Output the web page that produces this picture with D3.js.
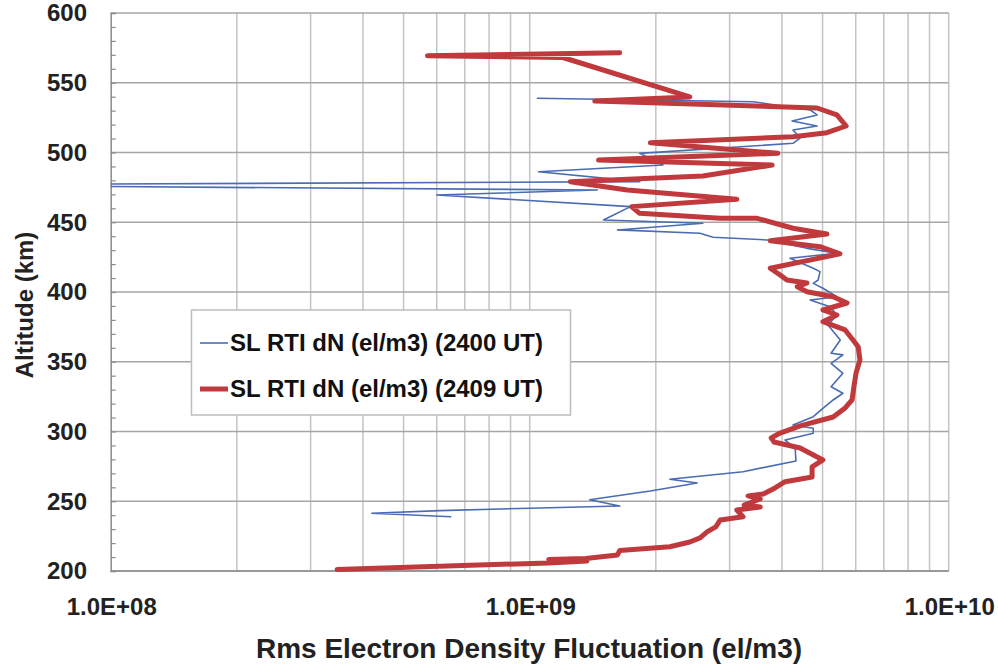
<!DOCTYPE html>
<html>
<head>
<meta charset="utf-8">
<script src="https://cdn.jsdelivr.net/npm/d3@7/dist/d3.min.js"></script>
<style>
  html, body { margin: 0; padding: 0; background: #fff; }
  svg { display: block; font-family: "Liberation Sans", Arial, sans-serif; }
</style>
</head>
<body>
<svg id="chart" width="998" height="669"></svg>
<script>
// altitude (km) and rms dN (units of 1e9 el/m3)
var alt2400 = [538.9,536.4,530.5,526.9,522.6,519.0,516.1,510.4,506.6,499.4,491.0,486.2,479.1,476.7,473.1,469.5,461.2,451.6,449.3,444.5,442.1,439.2,437.3,431.3,427.8,424.2,417.0,414.6,408.6,406.2,402.7,396.6,394.3,389.5,383.5,376.4,365.6,356.1,354.9,348.9,341.7,332.1,327.4,322.6,316.6,310.6,304.7,302.3,298.8,293.9,288.2,278.9,271.2,265.8,263.1,257.4,251.1,246.6,245.0,243.3,241.4,238.9];
var dn2400 = [1.04,3.41,4.67,4.85,4.23,4.85,4.25,4.42,4.25,1.83,2.08,1.05,1.83,0.031,1.45,0.60,1.74,1.50,2.59,1.62,2.55,2.74,3.69,4.59,5.41,4.18,4.75,4.93,4.88,4.75,5.01,5.41,4.67,5.21,5.41,5.15,5.51,5.24,5.59,5.24,5.59,5.24,5.59,5.30,5.01,4.75,4.25,4.75,4.75,4.07,4.30,4.32,3.23,2.16,2.51,1.94,1.39,1.64,1.00,0.61,0.42,0.65];

var alt2409 = [571.5,569.4,568.1,539.8,536.9,531.9,526.9,519.0,514.2,511.3,507.0,499.4,494.6,491.0,483.2,479.1,473.1,466.5,461.2,456.4,452.8,452.8,445.7,441.6,436.8,432.5,427.3,417.0,412.2,408.6,406.5,403.8,400.2,396.6,392.1,387.1,383.5,378.7,372.8,365.6,360.8,351.3,341.9,332.1,322.6,316.9,310.4,304.0,298.9,295.4,292.5,288.2,279.6,274.6,267.4,264.0,259.5,255.2,253.8,251.6,247.3,245.9,243.7,238.9,236.6,231.6,228.0,223.7,220.8,217.4,214.7,211.5,209.0,208.3,207.2,205.8,201.1];
var dn2409 = [1.64,0.57,1.20,2.41,1.43,4.85,5.41,5.69,5.12,4.25,1.94,3.91,1.46,3.79,2.59,1.25,1.71,3.12,1.75,1.83,2.85,3.49,4.25,5.12,3.75,4.93,5.50,3.75,3.96,4.11,4.59,4.35,4.59,5.30,5.72,5.01,5.41,5.01,5.66,5.91,6.08,6.14,6.01,5.94,5.88,5.66,5.30,4.42,3.96,3.77,3.83,4.42,5.01,4.72,4.72,4.07,3.85,3.61,3.32,3.55,3.25,3.55,3.12,3.23,2.85,2.78,2.65,2.55,2.41,2.16,1.64,1.62,1.36,1.11,1.37,1.11,0.347];

var altTicks = [200,250,300,350,400,450,500,550,600];
var xTicks = [1e8,1e9,1e10];
var xTickLabels = ["1.0E+08","1.0E+09","1.0E+10"];
var seriesNames = ["SL RTI dN (el/m3) (2400 UT)","SL RTI dN (el/m3) (2409 UT)"];
var seriesColors = ["#4a6cb3","#c0393c"];

var svg = d3.select("#chart");
var pLeft = 110.7, pRight = 948.7, pTop = 13, pBottom = 571;

var x = d3.scaleLog().domain([1e8,1e10]).range([pLeft,pRight]);
var y = d3.scaleLinear().domain([200,600]).range([pBottom,pTop]);

svg.append("defs").append("clipPath").attr("id","plotclip")
  .append("rect").attr("x",pLeft).attr("y",pTop-5).attr("width",pRight-pLeft).attr("height",pBottom-pTop+10);

// vertical grid (log minor)
var vgrid = [];
[1e8,1e9].forEach(function(d){ for (var k=2;k<=9;k++) vgrid.push(d*k); });
vgrid.push(1e9); vgrid.push(1e10);
svg.append("g").selectAll("line").data(vgrid).join("line")
  .attr("x1",function(d){return x(d);}).attr("x2",function(d){return x(d);})
  .attr("y1",pTop).attr("y2",pBottom)
  .attr("stroke","#c4c4c4").attr("stroke-width",1.5);

// horizontal grid
svg.append("g").selectAll("line").data(altTicks).join("line")
  .attr("x1",pLeft).attr("x2",pRight)
  .attr("y1",function(d){return y(d);}).attr("y2",function(d){return y(d);})
  .attr("stroke","#a6a6a6").attr("stroke-width",1.5);

// left axis with inner minor ticks
var yAxis = d3.axisLeft(y).tickValues(d3.range(200,601,10)).tickSize(-5).tickFormat("");
svg.append("g").attr("transform","translate("+pLeft+",0)").call(yAxis)
  .call(function(g){
    g.select(".domain").attr("stroke","#8c8c8c").attr("stroke-width",1.5);
    g.selectAll(".tick line").attr("stroke","#8c8c8c").attr("stroke-width",1.2);
  });
svg.append("line").attr("x1",pLeft).attr("x2",pRight).attr("y1",pBottom).attr("y2",pBottom)
  .attr("stroke","#8c8c8c").attr("stroke-width",1.5);

// y tick labels
svg.append("g").selectAll("text").data(altTicks).join("text")
  .attr("x",87).attr("y",function(d){return y(d);})
  .attr("dy","0.35em").attr("text-anchor","end")
  .attr("font-size",24).attr("font-weight","bold").attr("fill","#222")
  .text(function(d){return d;});

// x tick labels
svg.append("g").selectAll("text").data(xTicks).join("text")
  .attr("x",function(d){return x(d)+1;}).attr("y",607)
  .attr("dy","0.35em").attr("text-anchor","middle")
  .attr("font-size",24).attr("font-weight","bold").attr("fill","#222")
  .text(function(d,i){return xTickLabels[i];});

// axis titles
svg.append("text").attr("x",529).attr("y",648).attr("dy","0.35em")
  .attr("text-anchor","middle").attr("font-size",28).attr("font-weight","bold").attr("fill","#222")
  .text("Rms Electron Density Fluctuation (el/m3)");
svg.append("text").attr("transform","translate(25,305) rotate(-90)").attr("dy","0.35em")
  .attr("text-anchor","middle").attr("font-size",24).attr("font-weight","bold").attr("fill","#222")
  .text("Altitude (km)");

// series
var line = d3.line()
  .x(function(d){return x(d[1]*1e9);})
  .y(function(d){return y(d[0]);});

var plot = svg.append("g").attr("clip-path","url(#plotclip)");
plot.append("path").datum(d3.zip(alt2400,dn2400))
  .attr("d",line).attr("fill","none")
  .attr("stroke",seriesColors[0]).attr("stroke-width",1.6).attr("stroke-linejoin","round");
plot.append("path").datum(d3.zip(alt2409,dn2409))
  .attr("d",line).attr("fill","none")
  .attr("stroke",seriesColors[1]).attr("stroke-width",5).attr("stroke-linejoin","round").attr("stroke-linecap","round");

// legend
var lg = svg.append("g");
lg.append("rect").attr("x",191.5).attr("y",310).attr("width",379).attr("height",105)
  .attr("fill","#fff").attr("stroke","#bdbdbd").attr("stroke-width",1.5);
var widths = [1.6,5];
seriesNames.forEach(function(name,i){
  var cy = 343 + i*46;
  lg.append("line").attr("x1",200).attr("x2",228).attr("y1",cy).attr("y2",cy)
    .attr("stroke",seriesColors[i]).attr("stroke-width",widths[i]);
  lg.append("text").attr("x",230).attr("y",cy).attr("dy","0.35em")
    .attr("font-size",24).attr("font-weight","bold").attr("fill","#111")
    .text(name);
});
</script>
</body>
</html>
